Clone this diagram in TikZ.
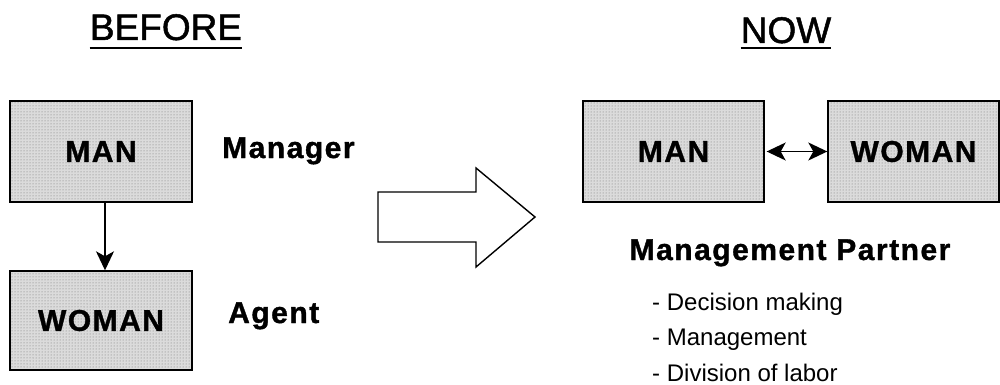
\documentclass[tikz,border=0pt]{standalone}
\usepackage{fontspec}
\setmainfont{Liberation Sans}
\newfontfamily\lblfont[LetterSpace=5,BoldFeatures={FakeBold=1.2}]{Liberation Sans}
\newfontfamily\titlefont[FakeBold=1.3]{Liberation Sans}
\usetikzlibrary{patterns,arrows.meta}
\begin{document}
\begin{tikzpicture}[x=1pt,y=-1pt,
  rolebox/.style={draw=black,line width=1.4pt,inner sep=0pt,
    preaction={fill=black!14},pattern=dots,pattern color=black!55,
    font=\lblfont\bfseries\fontsize{30}{36}\selectfont},
  title/.style={inner sep=0pt,font=\titlefont\fontsize{37}{44}\selectfont},
  lbl/.style={inner sep=0pt,font=\lblfont\bfseries\fontsize{30}{36}\selectfont},
  item/.style={inner sep=0pt,anchor=base west,font=\fontsize{24}{29}\selectfont},
  bigtip/.tip={Stealth[length=19pt,width=18pt,inset=5pt]},
  link/.style={line width=1.4pt,-{bigtip}}]
\useasboundingbox (0,0) rectangle (1000,385);

% headings
\node[title,anchor=base] (tb) at (166,40) {BEFORE};
\node[title,anchor=base] (tn) at (786,43) {NOW};
\draw[line width=2pt] ([yshift=-8.5pt]tb.base west) -- ([yshift=-8.5pt]tb.base east);
\draw[line width=2pt] ([yshift=-5.5pt]tn.base west) -- ([yshift=-5.5pt]tn.base east);

% before: hierarchy
\node[rolebox,minimum width=182pt,minimum height=101pt] (m1) at (101,151.5) {MAN};
\node[rolebox,minimum width=182pt,minimum height=99pt] (w1) at (101,320.5) {WOMAN};
\draw[link] ([xshift=4pt]m1.south) -- ([xshift=4pt]w1.north);
\node[lbl,anchor=base west] (lm) at (222,158) {Manager};
\node[lbl,anchor=base west] (la) at (228,323) {Agent};

% transition arrow
\draw[line width=1.4pt,line join=miter] (378,192) -- (476,192) -- (476,168) -- (535,217)
  -- (476,267) -- (476,242) -- (378,242) -- cycle;

% now: partnership
\node[rolebox,minimum width=181pt,minimum height=101pt] (m2) at (673.5,151.5) {MAN};
\node[rolebox,minimum width=171pt,minimum height=101pt] (w2) at (913.5,151.5) {WOMAN};
\draw[line width=1.4pt,{bigtip}-{bigtip},shorten <=2pt] (m2.east) -- (w2.west);
\node[lbl,anchor=base] (mp) at (790,260) {Management Partner};
\node[item] (i1) at (652,310) {- Decision making};
\node[item] (i2) at (652,345.5) {- Management};
\node[item] (i3) at (652,381) {- Division of labor};
\end{tikzpicture}
\end{document}
